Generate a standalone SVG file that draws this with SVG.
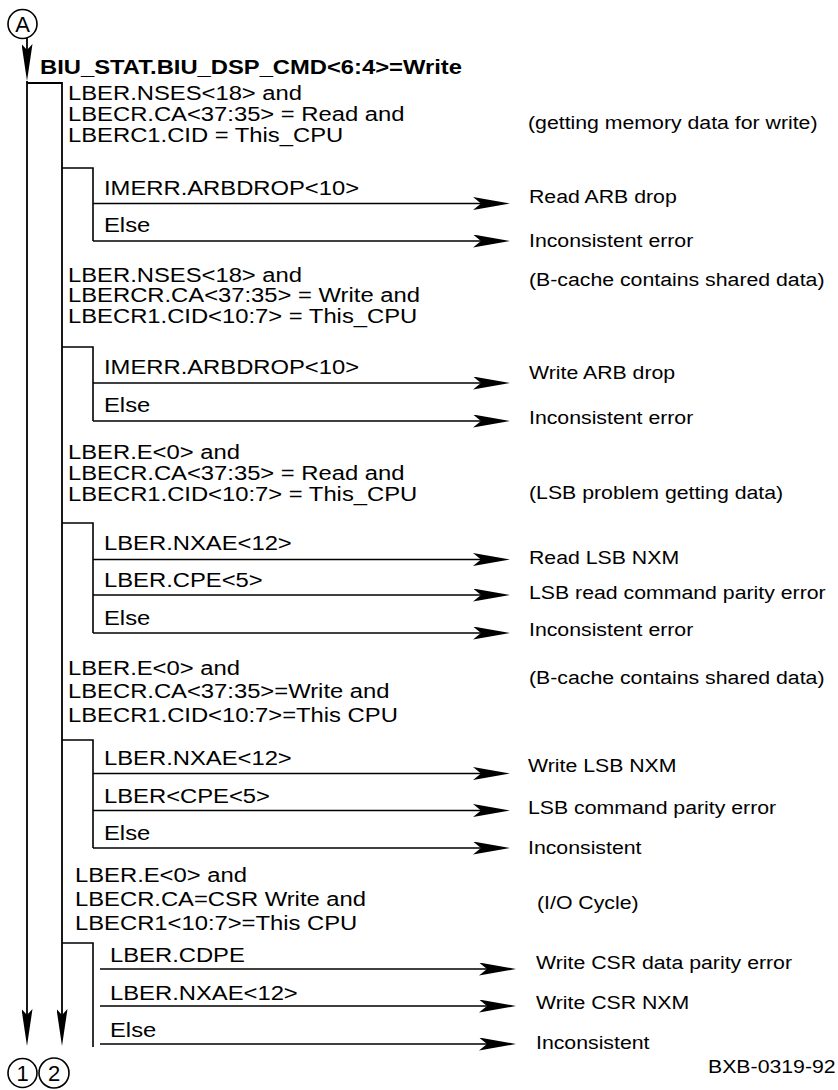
<svg xmlns="http://www.w3.org/2000/svg" width="838" height="1090" viewBox="0 0 838 1090">
<style>
text{font-family:"Liberation Sans",Arial,sans-serif;fill:#000}
.l{font-size:20px}
.r{font-size:19px}
.h{font-size:20.5px;font-weight:bold}
.c{font-size:22px;text-anchor:middle}
.ln{fill:none;stroke:#000;stroke-width:1.6}
.ar{fill:none;stroke:#000;stroke-width:1.6;marker-end:url(#ah)}
.dn{fill:none;stroke:#000;stroke-width:1.8;marker-end:url(#dh)}
.ring{fill:none;stroke:#000;stroke-width:1.6}
</style>
<defs>
<marker id="ah" markerUnits="userSpaceOnUse" viewBox="0 0 37 13" refX="22" refY="6.5" markerWidth="37" markerHeight="13" orient="auto">
<path d="M0,0 L37,6.5 L0,13 L8,6.5 Z" fill="#000"/>
</marker>
<marker id="dh" markerUnits="userSpaceOnUse" viewBox="0 0 37 11" refX="22" refY="5.5" markerWidth="37" markerHeight="11" orient="auto">
<path d="M0,0 L37,5.5 L0,11 L6,5.5 Z" fill="#000"/>
</marker>
</defs>

<g id="start">
<circle class="ring" cx="22.5" cy="24" r="14.5"/>
<text class="c" x="22.5" y="32">A</text>
</g>

<g id="header">
<text class="h" transform="translate(40 74) scale(1.16 1)">BIU_STAT.BIU_DSP_CMD&lt;6:4&gt;=Write</text>
</g>

<g id="connectors">
<path class="dn" d="M27,38 V66"/>
<path class="dn" d="M27,81 V1031"/>
<path class="dn" d="M27,83 H62 V1031"/>
<!-- section 1 -->
<path class="ln" d="M62,168 H93 V241"/>
<path class="ar" d="M93,203.5 H495"/>
<path class="ar" d="M93,241 H495"/>
<!-- section 2 -->
<path class="ln" d="M62,347 H93 V421"/>
<path class="ar" d="M93,383 H495"/>
<path class="ar" d="M93,421 H495"/>
<!-- section 3 -->
<path class="ln" d="M62,523 H93 V633"/>
<path class="ar" d="M93,559.5 H495"/>
<path class="ar" d="M93,595 H495"/>
<path class="ar" d="M93,633 H495"/>
<!-- section 4 -->
<path class="ln" d="M62,740 H93 V848"/>
<path class="ar" d="M93,773.5 H495"/>
<path class="ar" d="M93,810.5 H495"/>
<path class="ar" d="M93,848 H495"/>
<!-- section 5 -->
<path class="ln" d="M62,943 H93 V1047"/>
<path class="ar" d="M100,969 H501"/>
<path class="ar" d="M100,1006 H501"/>
<path class="ar" d="M100,1044 H501"/>
</g>

<g id="sec1">
<text class="l" transform="translate(68 100) scale(1.19 1)">LBER.NSES&lt;18&gt; and</text>
<text class="l" transform="translate(68 121) scale(1.19 1)">LBECR.CA&lt;37:35&gt; = Read and</text>
<text class="l" transform="translate(68 142) scale(1.19 1)">LBERC1.CID = This_CPU</text>
<text class="r" transform="translate(528 129) scale(1.12 1)">(getting memory data for write)</text>
<text class="l" transform="translate(104 195) scale(1.19 1)">IMERR.ARBDROP&lt;10&gt;</text>
<text class="r" transform="translate(529 203) scale(1.12 1)">Read ARB drop</text>
<text class="l" transform="translate(104 232) scale(1.19 1)">Else</text>
<text class="r" transform="translate(529 246.5) scale(1.12 1)">Inconsistent error</text>
</g>

<g id="sec2">
<text class="l" transform="translate(68 281.5) scale(1.19 1)">LBER.NSES&lt;18&gt; and</text>
<text class="l" transform="translate(68 302) scale(1.19 1)">LBERCR.CA&lt;37:35&gt; = Write and</text>
<text class="l" transform="translate(68 322.5) scale(1.19 1)">LBECR1.CID&lt;10:7&gt; = This_CPU</text>
<text class="r" transform="translate(529 286) scale(1.12 1)">(B-cache contains shared data)</text>
<text class="l" transform="translate(104 373.5) scale(1.19 1)">IMERR.ARBDROP&lt;10&gt;</text>
<text class="r" transform="translate(529 378.5) scale(1.12 1)">Write ARB drop</text>
<text class="l" transform="translate(104 412) scale(1.19 1)">Else</text>
<text class="r" transform="translate(529 423.5) scale(1.12 1)">Inconsistent error</text>
</g>

<g id="sec3">
<text class="l" transform="translate(68 458.5) scale(1.19 1)">LBER.E&lt;0&gt; and</text>
<text class="l" transform="translate(68 480) scale(1.19 1)">LBECR.CA&lt;37:35&gt; = Read and</text>
<text class="l" transform="translate(68 500.5) scale(1.19 1)">LBECR1.CID&lt;10:7&gt; = This_CPU</text>
<text class="r" transform="translate(529 498.5) scale(1.12 1)">(LSB problem getting data)</text>
<text class="l" transform="translate(104 550) scale(1.19 1)">LBER.NXAE&lt;12&gt;</text>
<text class="r" transform="translate(529 563.5) scale(1.12 1)">Read LSB NXM</text>
<text class="l" transform="translate(104 587) scale(1.19 1)">LBER.CPE&lt;5&gt;</text>
<text class="r" transform="translate(529 598.5) scale(1.12 1)">LSB read command parity error</text>
<text class="l" transform="translate(104 625) scale(1.19 1)">Else</text>
<text class="r" transform="translate(529 636) scale(1.12 1)">Inconsistent error</text>
</g>

<g id="sec4">
<text class="l" transform="translate(68 675) scale(1.19 1)">LBER.E&lt;0&gt; and</text>
<text class="l" transform="translate(68 698) scale(1.19 1)">LBECR.CA&lt;37:35&gt;=Write and</text>
<text class="l" transform="translate(68 722) scale(1.19 1)">LBECR1.CID&lt;10:7&gt;=This CPU</text>
<text class="r" transform="translate(529 683.5) scale(1.12 1)">(B-cache contains shared data)</text>
<text class="l" transform="translate(104 765) scale(1.19 1)">LBER.NXAE&lt;12&gt;</text>
<text class="r" transform="translate(528 772) scale(1.12 1)">Write LSB NXM</text>
<text class="l" transform="translate(104 803) scale(1.19 1)">LBER&lt;CPE&lt;5&gt;</text>
<text class="r" transform="translate(528 813.5) scale(1.12 1)">LSB command parity error</text>
<text class="l" transform="translate(104 839.5) scale(1.19 1)">Else</text>
<text class="r" transform="translate(528 854) scale(1.12 1)">Inconsistent</text>
</g>

<g id="sec5">
<text class="l" transform="translate(75 882) scale(1.19 1)">LBER.E&lt;0&gt; and</text>
<text class="l" transform="translate(75 906) scale(1.19 1)">LBECR.CA=CSR Write and</text>
<text class="l" transform="translate(75 930) scale(1.19 1)">LBECR1&lt;10:7&gt;=This CPU</text>
<text class="r" transform="translate(537 908.5) scale(1.12 1)">(I/O Cycle)</text>
<text class="l" transform="translate(110 962) scale(1.19 1)">LBER.CDPE</text>
<text class="r" transform="translate(536 968.5) scale(1.12 1)">Write CSR data parity error</text>
<text class="l" transform="translate(110 1000) scale(1.19 1)">LBER.NXAE&lt;12&gt;</text>
<text class="r" transform="translate(536 1008.5) scale(1.12 1)">Write CSR NXM</text>
<text class="l" transform="translate(110 1037) scale(1.19 1)">Else</text>
<text class="r" transform="translate(536 1048.5) scale(1.12 1)">Inconsistent</text>
</g>

<g id="end1">
<circle class="ring" cx="22.5" cy="1073" r="14.5"/>
<text class="c" x="22.5" y="1081">1</text>
</g>
<g id="end2">
<circle class="ring" cx="54" cy="1073" r="15"/>
<text class="c" x="54" y="1081">2</text>
</g>

<g id="figid">
<text class="r" transform="translate(708 1073) scale(1.12 1)">BXB-0319-92</text>
</g>
</svg>
